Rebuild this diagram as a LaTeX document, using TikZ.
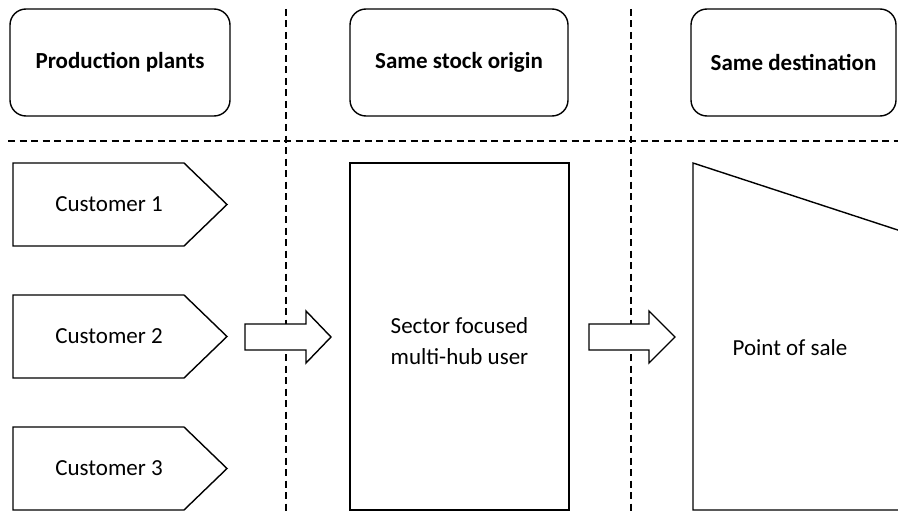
\documentclass[tikz,border=0pt]{standalone}
\usepackage{fontspec}
\setmainfont{Carlito}
\begin{document}
\begin{tikzpicture}[x=1pt,y=-1pt,
  shapeline/.style={draw=black,line width=1.4pt,fill=white},
  headbox/.style={shapeline,rounded corners=16pt,inner sep=0pt,font=\fontsize{23}{27}\selectfont\bfseries},
  lbl/.style={inner sep=0pt,font=\fontsize{23}{31}\selectfont,align=center},
  divider/.style={draw=black,line width=1.2pt,dash pattern=on 7pt off 4.5pt}]
\clip (0,0) rectangle (898,511);
\fill[white] (0,0) rectangle (898,511);
% dividers
\coordinate (v1t) at (286,9); \coordinate (v1b) at (286,511);
\coordinate (v2t) at (631,9); \coordinate (v2b) at (631,511);
\coordinate (hl) at (8,141); \coordinate (hr) at (898,141);
\draw[divider] (v1t) -- (v1b);
\draw[divider] (v2t) -- (v2b);
\draw[divider] (hl) -- (hr);
% headers
\node[headbox,minimum width=220pt,minimum height=107pt] (h1) at (120,62.5) {Production plants};
\node[headbox,minimum width=218pt,minimum height=107pt] (h2) at (459,62.5) {Same stock origin};
\node[headbox,minimum width=205pt,minimum height=107pt] (h3) at (793.5,62.5) {Same destination};
% customers
\foreach \i/\t in {1/163,2/295,3/427}{
  \draw[shapeline] (13,\t) -- (184,\t) -- (227,\t+41.5) -- (184,\t+83) -- (13,\t+83) -- cycle;
  \node[lbl] (c\i) at (109,\t+41.5) {Customer \i};
}
% block arrows
\draw[shapeline] (245,324) -- (306,324) -- (306,311) -- (331,337) -- (306,363) -- (306,350) -- (245,350) -- cycle;
\draw[shapeline] (589,324) -- (649,324) -- (649,311) -- (675,337) -- (649,363) -- (649,350) -- (589,350) -- cycle;
% sector box
\node[shapeline,minimum width=219pt,minimum height=347pt,inner sep=0pt] (sector) at (459.5,336.5) {};
\node[lbl] (sectortext) at (459.5,341) {Sector focused\\multi-hub user};
% point of sale
\draw[shapeline] (693,163) -- (910,234) -- (910,510) -- (693,510) -- cycle;
\node[lbl] (pos) at (790,348) {Point of sale};
\end{tikzpicture}
\end{document}
